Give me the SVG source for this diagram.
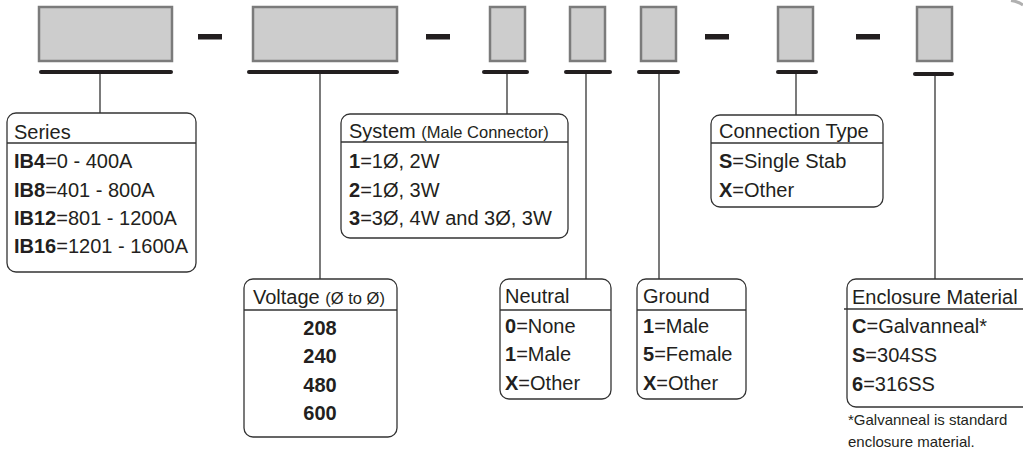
<svg xmlns="http://www.w3.org/2000/svg" width="1023" height="455" viewBox="0 0 1023 455">
<style>
.slot{fill:#cdcdcd;stroke:#7b7b7b;stroke-width:2.5}
.dash{fill:#231f20}
.bar{stroke:#231f20;stroke-width:4;stroke-linecap:round;fill:none}
.conn{stroke:#333;stroke-width:1.3;fill:none}
.box{fill:#fff;stroke:#333;stroke-width:1.3}
.sep{stroke:#333;stroke-width:1.3}
text{font-family:"Liberation Sans",Arial,sans-serif;font-size:20px;fill:#231f20}
.b{font-weight:bold}
.sm{font-size:16.5px}
.fn{font-size:15px}
</style>
<rect width="1023" height="455" fill="#fff"/>
<path d="M1011,0.5 Q1018,1.5 1023,5" stroke="#b0b0b0" stroke-width="3" fill="none"/>

<g id="code-slots">
<rect class="slot" x="39" y="7" width="133" height="54"/>
<rect class="dash" x="198" y="34" width="24" height="5.5"/>
<rect class="slot" x="253" y="7" width="144" height="54"/>
<rect class="dash" x="426" y="34" width="24" height="5.5"/>
<rect class="slot" x="490" y="7" width="35" height="54"/>
<rect class="slot" x="570" y="7" width="35" height="54"/>
<rect class="slot" x="641" y="7" width="35" height="54"/>
<rect class="dash" x="705" y="34" width="24" height="5.5"/>
<rect class="slot" x="778" y="7" width="35" height="54"/>
<rect class="dash" x="856" y="34" width="24" height="5.5"/>
<rect class="slot" x="917" y="7" width="35" height="54"/>
<line class="bar" x1="41" y1="72" x2="171" y2="72"/>
<line class="bar" x1="249" y1="72" x2="397" y2="72"/>
<line class="bar" x1="484" y1="72" x2="527" y2="72"/>
<line class="bar" x1="566" y1="72" x2="610" y2="72"/>
<line class="bar" x1="639" y1="72" x2="678" y2="72"/>
<line class="bar" x1="778" y1="72" x2="816" y2="72"/>
<line class="bar" x1="915" y1="74" x2="952" y2="74"/>
</g>

<g id="connectors">
<line class="conn" x1="100" y1="74" x2="100" y2="113"/>
<line class="conn" x1="320" y1="74" x2="320" y2="279"/>
<line class="conn" x1="507" y1="74" x2="507" y2="114"/>
<line class="conn" x1="586" y1="74" x2="586" y2="279"/>
<line class="conn" x1="659" y1="74" x2="659" y2="279"/>
<line class="conn" x1="796" y1="74" x2="796" y2="115"/>
<line class="conn" x1="935" y1="76" x2="935" y2="279"/>
</g>

<g id="series">
<rect class="box" x="7" y="113" width="189" height="159" rx="9"/>
<line class="sep" x1="7" y1="143" x2="196" y2="143"/>
<text x="14" y="139">Series</text>
<text x="14" y="168"><tspan class="b">IB4</tspan>=0 - 400A</text>
<text x="14" y="197"><tspan class="b">IB8</tspan>=401 - 800A</text>
<text x="14" y="225"><tspan class="b">IB12</tspan>=801 - 1200A</text>
<text x="14" y="253"><tspan class="b">IB16</tspan>=1201 - 1600A</text>
</g>

<g id="voltage">
<rect class="box" x="244" y="279" width="153" height="158" rx="9"/>
<line class="sep" x1="244" y1="310" x2="397" y2="310"/>
<text x="253" y="304">Voltage <tspan class="sm">(Ø to Ø)</tspan></text>
<text class="b" x="320" y="335" text-anchor="middle">208</text>
<text class="b" x="320" y="363" text-anchor="middle">240</text>
<text class="b" x="320" y="392" text-anchor="middle">480</text>
<text class="b" x="320" y="420" text-anchor="middle">600</text>
</g>

<g id="system">
<rect class="box" x="341" y="114" width="227" height="124" rx="9"/>
<line class="sep" x1="341" y1="142" x2="568" y2="142"/>
<text x="349" y="138">System <tspan class="sm">(Male Connector)</tspan></text>
<text x="349" y="168"><tspan class="b">1</tspan>=1Ø, 2W</text>
<text x="349" y="197"><tspan class="b">2</tspan>=1Ø, 3W</text>
<text x="349" y="225"><tspan class="b">3</tspan>=3Ø, 4W and 3Ø, 3W</text>
</g>

<g id="neutral">
<rect class="box" x="500" y="279" width="111" height="120" rx="9"/>
<line class="sep" x1="500" y1="310" x2="611" y2="310"/>
<text x="505" y="303">Neutral</text>
<text x="505" y="333"><tspan class="b">0</tspan>=None</text>
<text x="505" y="361"><tspan class="b">1</tspan>=Male</text>
<text x="505" y="390"><tspan class="b">X</tspan>=Other</text>
</g>

<g id="ground">
<rect class="box" x="637" y="279" width="109" height="120" rx="9"/>
<line class="sep" x1="637" y1="310" x2="746" y2="310"/>
<text x="643" y="303">Ground</text>
<text x="643" y="333"><tspan class="b">1</tspan>=Male</text>
<text x="643" y="361"><tspan class="b">5</tspan>=Female</text>
<text x="643" y="390"><tspan class="b">X</tspan>=Other</text>
</g>

<g id="connection-type">
<rect class="box" x="711" y="115" width="172" height="92" rx="9"/>
<line class="sep" x1="711" y1="143" x2="883" y2="143"/>
<text x="719" y="138">Connection Type</text>
<text x="719" y="168"><tspan class="b">S</tspan>=Single Stab</text>
<text x="719" y="197"><tspan class="b">X</tspan>=Other</text>
</g>

<g id="enclosure-material">
<rect class="box" x="847" y="279" width="190" height="128" rx="9"/>
<line class="sep" x1="844" y1="309" x2="1023" y2="309"/>
<text x="852" y="304">Enclosure Material</text>
<text x="852" y="333"><tspan class="b">C</tspan>=Galvanneal*</text>
<text x="852" y="362"><tspan class="b">S</tspan>=304SS</text>
<text x="852" y="391"><tspan class="b">6</tspan>=316SS</text>
<text class="fn" x="848" y="425">*Galvanneal is standard</text>
<text class="fn" x="848" y="447">enclosure material.</text>
</g>
</svg>
